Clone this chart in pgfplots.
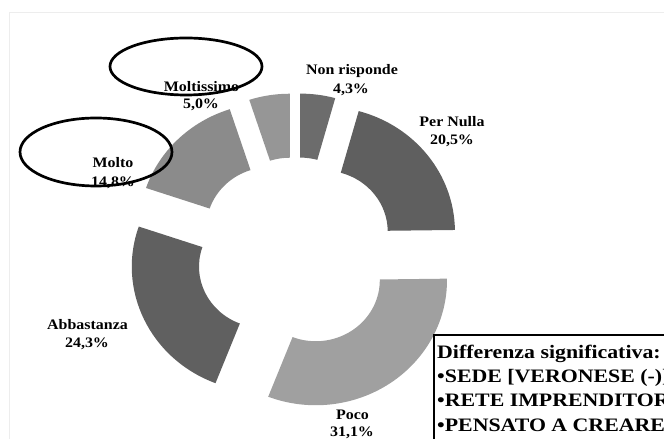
\documentclass[border=0pt]{standalone}
\usepackage{pgfplots}
\pgfplotsset{compat=1.18}
\usepackage{pgfplotstable}
\usepackage{fontspec}
\setmainfont{Liberation Serif}
\newfontfamily\labfont[FakeStretch=1.1]{Liberation Serif}
\newfontfamily\boxfont[FakeStretch=1.15]{Liberation Serif}
\definecolor{seg0}{HTML}{6C6C6C}
\definecolor{seg1}{HTML}{5F5F5F}
\definecolor{seg2}{HTML}{A0A0A0}
\definecolor{seg3}{HTML}{606060}
\definecolor{seg4}{HTML}{8B8B8B}
\definecolor{seg5}{HTML}{969696}
\pgfplotstableread[col sep=comma]{
label,value
Non risponde,4.3
Per Nulla,20.5
Poco,31.1
Abbastanza,24.3
Molto,14.8
Moltissimo,5.0
}\donut
\newcommand{\lab}[3]{\node[anchor=base, inner sep=0pt, font=\labfont\bfseries\fontsize{14.5}{17}\selectfont] at (axis cs:#1,{439-#2}) {#3};}
\newcommand{\boxline}[2]{\node[anchor=base west, inner sep=0pt, font=\boxfont\bfseries\fontsize{19}{23}\selectfont] at (axis cs:437,{439-#1}) {#2};}
\begin{document}
\begin{tikzpicture}
\useasboundingbox (0,0) rectangle (664pt,439pt);
\clip (0,0) rectangle (664pt,439pt);
% cumulative angles from the data (start at top, clockwise)
\gdef\cum{0}
\foreach \i in {0,...,5}{
  \pgfplotstablegetelem{\i}{value}\of\donut
  \let\v\pgfplotsretval
  \pgfmathsetmacro\sa{90-3.6*\cum}
  \pgfmathsetmacro\newcum{\cum+\v}
  \pgfmathsetmacro\ea{90-3.6*\newcum}
  \pgfmathsetmacro\ma{(\sa+\ea)/2}
  \expandafter\xdef\csname sa\i\endcsname{\sa}
  \expandafter\xdef\csname ea\i\endcsname{\ea}
  \expandafter\xdef\csname ma\i\endcsname{\ma}
  \xdef\cum{\newcum}
}
\begin{axis}[at={(0pt,0pt)}, anchor=south west, x=1pt, y=1pt,
  xmin=0, xmax=664, ymin=0, ymax=439, hide axis, clip=false]
% faint frame
\draw[color=black!7, line width=1pt] (axis cs:9.5,-20) -- (axis cs:9.5,426.5) -- (axis cs:700,426.5);
% donut
\pgfplotsinvokeforeach{0,...,5}{
  \begin{scope}[shift={(axis cs:295.4,186.7)}, xscale=1.05]
  \fill[seg#1] ([shift={(\csname ma#1\endcsname:34pt)}]\csname sa#1\endcsname:125pt)
     arc[start angle=\csname sa#1\endcsname, end angle=\csname ea#1\endcsname, radius=125pt]
     -- ([shift={(\csname ma#1\endcsname:34pt)}]\csname ea#1\endcsname:61pt)
     arc[start angle=\csname ea#1\endcsname, end angle=\csname sa#1\endcsname, radius=61pt]
     -- cycle;
  \end{scope}
}
% labels
\lab{352}{75}{Non risponde}
\lab{351}{94}{4,3\%}
\lab{452}{127}{Per Nulla}
\lab{452}{145}{20,5\%}
\lab{352.5}{420}{Poco}
\lab{352}{437}{31,1\%}
\lab{87.5}{330}{Abbastanza}
\lab{87}{348}{24,3\%}
\lab{113}{168}{Molto}
\lab{113}{187}{14,8\%}
\lab{201.5}{92}{Moltissimo}
\lab{201}{109}{5,0\%}
% box
\draw[line width=2pt] (axis cs:434,104) rectangle (axis cs:720,-40);
\boxline{359}{Differenza significativa:}
\boxline{383}{•SEDE [VERONESE (-)]}
\boxline{407}{•RETE IMPRENDITORIALE}
\boxline{432}{•PENSATO A CREARE RETE}
% ellipses
\draw[line width=2.7pt] (axis cs:186,{439-66.5}) ellipse[x radius=76pt, y radius=28.5pt];
\draw[line width=2.7pt] (axis cs:96,{439-152}) ellipse[x radius=76pt, y radius=34pt];
\end{axis}
\end{tikzpicture}
\end{document}
